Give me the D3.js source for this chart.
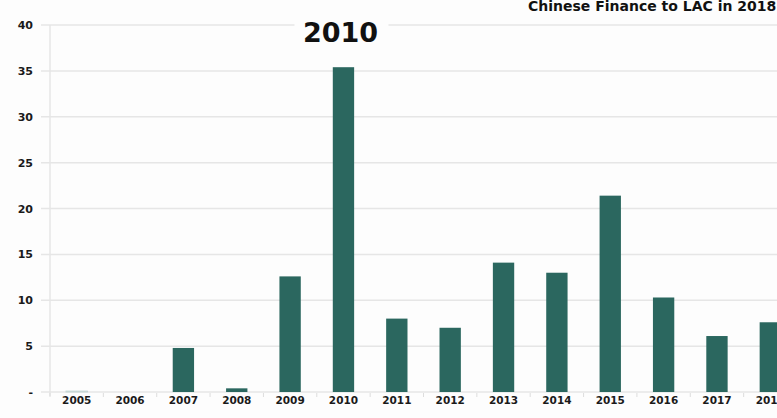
<!DOCTYPE html>
<html>
<head>
<meta charset="utf-8">
<script src="https://cdn.jsdelivr.net/npm/d3@7"></script>
<style>
  body { margin: 0; background: #fff; }
  svg { display: block; }
</style>
</head>
<body>
<div id="wrapper"></div>
<script>
const years = ["2005", "2006", "2007", "2008", "2009", "2010", "2011", "2012", "2013", "2014", "2015", "2016", "2017", "2018"]
const finance = [0.1, 0, 4.8, 0.4, 12.6, 35.4, 8.0, 7.0, 14.1, 13.0, 21.4, 10.3, 6.1, 7.6]
const yTicks = [0, 5, 10, 15, 20, 25, 30, 35, 40]
const titleText = "Chinese Finance to LAC in 2018"
const highlightText = "2010"

function drawChart() {
  const width = 777
  const height = 418
  const margin = { top: 25, right: -20, bottom: 26, left: 50 }
  const boundedWidth = width - margin.left - margin.right
  const boundedHeight = height - margin.top - margin.bottom

  const svg = d3.select("#wrapper")
    .append("svg")
    .attr("width", width)
    .attr("height", height)

  svg.append("rect")
    .attr("width", width)
    .attr("height", height)
    .attr("fill", "#fdfdfd")

  const bounds = svg.append("g")
    .attr("transform", `translate(${margin.left},${margin.top})`)

  const xScale = d3.scaleBand()
    .domain(years)
    .range([0, boundedWidth])
    .paddingInner(0.6)
    .paddingOuter(0.3)

  const yScale = d3.scaleLinear()
    .domain([0, 40])
    .range([boundedHeight, 0])

  // gridlines
  bounds.append("g")
    .selectAll("line")
    .data(yTicks)
    .join("line")
    .attr("x1", -9)
    .attr("x2", width)
    .attr("y1", d => yScale(d))
    .attr("y2", d => yScale(d))
    .attr("stroke", "#e6e6e6")
    .attr("stroke-width", 1.5)

  // y axis line
  bounds.append("line")
    .attr("x1", 0).attr("x2", 0)
    .attr("y1", 0).attr("y2", boundedHeight + 4)
    .attr("stroke", "#e6e6e6")
    .attr("stroke-width", 1.5)

  // y labels
  const yAxis = d3.axisLeft(yScale)
    .tickValues(yTicks)
    .tickSize(0)
    .tickPadding(17)
    .tickFormat(d => d === 0 ? "-" : d)
  const yG = bounds.append("g").call(yAxis)
  yG.select(".domain").remove()
  yG.selectAll("text")
    .attr("font-family", "DejaVu Sans")
    .attr("font-weight", "bold")
    .attr("font-size", 11)
    .attr("fill", "#1a1a1a")

  // x axis
  const step = xScale.step()
  bounds.append("g")
    .selectAll("line")
    .data(years)
    .join("line")
    .attr("x1", d => xScale(d) - (step - xScale.bandwidth()) / 2)
    .attr("x2", d => xScale(d) - (step - xScale.bandwidth()) / 2)
    .attr("y1", boundedHeight + 1)
    .attr("y2", boundedHeight + 5)
    .attr("stroke", "#dddddd")

  const xAxis = d3.axisBottom(xScale).tickSize(0).tickPadding(5)
  const xG = bounds.append("g")
    .attr("transform", `translate(0,${boundedHeight})`)
    .call(xAxis)
  xG.select(".domain").remove()
  xG.selectAll("text")
    .attr("font-family", "DejaVu Sans")
    .attr("font-weight", "bold")
    .attr("font-size", 10.5)
    .attr("fill", "#1a1a1a")

  // bars
  bounds.append("g")
    .selectAll("rect")
    .data(years.map((y, i) => ({ year: y, value: finance[i] })))
    .join("rect")
    .attr("x", d => xScale(d.year))
    .attr("width", xScale.bandwidth())
    .attr("y", d => yScale(d.value))
    .attr("height", d => boundedHeight - yScale(d.value))
    .attr("fill", "#2b675f")
    .attr("stroke", d => d.value < 0.3 ? "#c8d8d6" : "none")

  // highlight label with white box
  const hx = xScale("2010") + xScale.bandwidth() / 2
  svg.append("rect")
    .attr("x", margin.left + hx - 49)
    .attr("y", 5)
    .attr("width", 94)
    .attr("height", 45)
    .attr("fill", "#fdfdfd")
  svg.append("text")
    .attr("x", margin.left + hx - 3)
    .attr("y", 42)
    .attr("text-anchor", "middle")
    .attr("font-family", "DejaVu Sans")
    .attr("font-weight", "bold")
    .attr("font-size", 27)
    .attr("fill", "#111")
    .text(highlightText)

  // title (clipped at top)
  svg.append("text")
    .attr("x", 528)
    .attr("y", 11)
    .attr("font-family", "DejaVu Sans")
    .attr("font-weight", "bold")
    .attr("font-size", 14)
    .attr("fill", "#111")
    .text(titleText)
}
drawChart()
</script>
</body>
</html>
